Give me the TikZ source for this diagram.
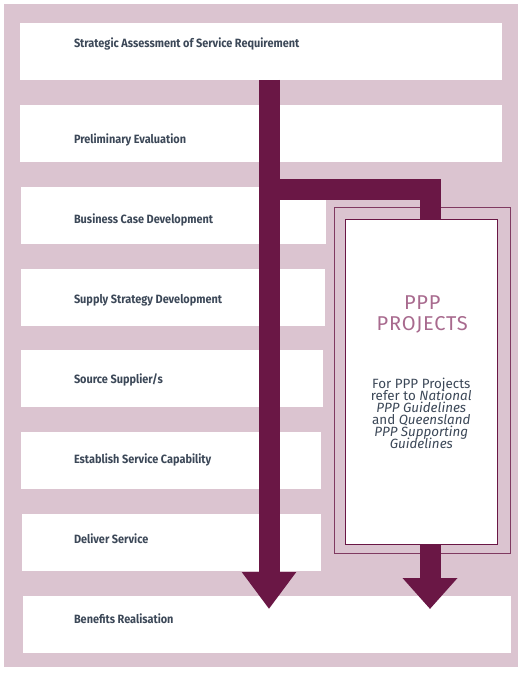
\documentclass[tikz,border=0pt]{standalone}
\usepackage{fontspec}
\setmainfont{Fira Sans}
\newfontfamily\stagefont[FakeStretch=0.91]{Fira Sans}
\usepackage{tikz}
\usetikzlibrary{arrows.meta}
\definecolor{pinkbg}{HTML}{DBC4D0}
\definecolor{plum}{HTML}{6A1745}
\definecolor{mauve}{HTML}{A86A8E}
\definecolor{slate}{HTML}{3C4858}

\begin{document}
\begin{tikzpicture}[x=1pt,y=-1pt]
\tikzstyle{every node}=[inner sep=0pt, outer sep=0pt]
\tikzstyle{stage}=[rectangle, fill=white, minimum height=57pt]
\tikzstyle{stagelabel}=[anchor=base west, text=slate, font=\stagefont\fontsize{12}{14}\selectfont\bfseries]
\tikzstyle{flow}=[plum, line width=21pt]
\useasboundingbox (0,0) rectangle (529,676);
\fill[pinkbg] (4,4) rectangle (518,667);
% stages
\draw (261,51.5) node (s1) [stage, minimum width=482pt] {};
\draw (261,133.5) node (s2) [stage, minimum width=482pt] {};
\draw (173.5,215.5) node (s3) [stage, minimum width=305pt] {};
\draw (173,297.5) node (s4) [stage, minimum width=304pt] {};
\draw (172,378.5) node (s5) [stage, minimum width=302pt] {};
\draw (171,460.5) node (s6) [stage, minimum width=300pt] {};
\draw (171.5,542.5) node (s7) [stage, minimum width=299pt] {};
\draw (267,624.5) node (s8) [stage, minimum width=488pt] {};
\draw (74,47.5) node (l1) [stagelabel] {Strategic Assessment of Service Requirement};
\draw (74,143.5) node (l2) [stagelabel] {Preliminary Evaluation};
\draw (74,223.5) node (l3) [stagelabel] {Business Case Development};
\draw (74,303.5) node (l4) [stagelabel] {Supply Strategy Development};
\draw (74,383.5) node (l5) [stagelabel] {Source Supplier/s};
\draw (74,463.5) node (l6) [stagelabel] {Establish Service Capability};
\draw (74,543.5) node (l7) [stagelabel] {Deliver Service};
\draw (74,623.5) node (l8) [stagelabel] {Benefits Realisation};
% PPP box
\draw (422.3,380.4) node (frame) [rectangle, draw=plum!85, line width=1pt, minimum width=176pt, minimum height=346.7pt] {};
\draw (421.3,382) node (ppp) [rectangle, fill=white, draw=plum, line width=1.2pt, minimum width=152pt, minimum height=325.4pt] {};
\draw (422.3,330.7) node (title) [anchor=base, align=center, text=mauve, font=\fontsize{20}{21.5}\selectfont\addfontfeature{LetterSpace=4}] {PPP\\PROJECTS};
\draw (421.3,448) node (note) [anchor=base, align=center, text=slate, font={\fontsize{13.4}{12}\selectfont\lineskiplimit=-20pt}] {For PPP Projects\\refer to \textit{National}\\\textit{PPP Guidelines}\\and \textit{Queensland}\\\textit{PPP Supporting}\\\textit{Guidelines}};
% arrows
\coordinate (a0) at (s1.south -| 269,0);
\coordinate (a1) at (269,190);
\coordinate (a2) at (430,190);
\coordinate (tipA) at (269,609);
\coordinate (tipB) at (430,609);
\draw[flow, -{Triangle[width=52pt,length=37pt]}] (a0) -- (tipA);
\draw[flow, line join=miter] (a1) -- (a2) -- (ppp.north -| a2);
\draw[flow, -{Triangle[width=53pt,length=31pt]}] (ppp.south -| a2) -- (tipB);
\end{tikzpicture}
\end{document}
